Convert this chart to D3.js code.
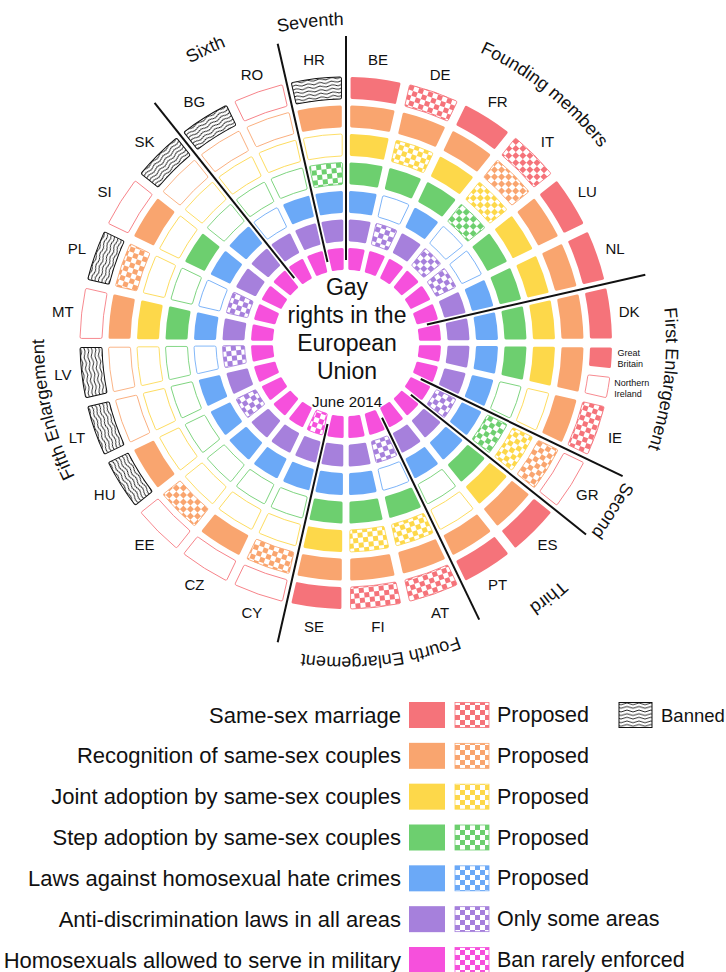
<!DOCTYPE html>
<html>
<head>
<meta charset="utf-8">
<script src="https://cdn.jsdelivr.net/npm/d3@7"></script>
<style>
  body { margin: 0; background: #fff; }
  text { font-family: "Liberation Sans", Arial, sans-serif; fill: #111; }
</style>
</head>
<body>
<div id="vis"></div>
<script>
// countries clockwise from 12 o'clock
const countries = ['BE','DE','FR','IT','LU','NL','DK','UK','IE','GR','ES','PT','AT','FI','SE',
  'CY','CZ','EE','HU','LT','LV','MT','PL','SI','SK','BG','RO','HR'];
const groupNames = ['Founding members','First Enlargement','Second','Third','Fourth Enlargement','Fifth Enlargement','Sixth','Seventh'];
const groupSizes = [6, 3, 1, 2, 3, 10, 2, 1];

// Y = yes, P = proposed / partial, N = no, B = banned, S = split (GB yes / NI no)
const marriage    = ['Y','P','Y','P','Y','Y','Y','S','P','N','Y','Y','P','P','Y','N','N','N','B','B','B','N','B','N','B','B','N','B'];
const recognition = ['Y','Y','Y','P','Y','Y','Y','Y','Y','P','Y','Y','Y','Y','Y','P','Y','P','Y','N','N','Y','P','Y','N','N','N','Y'];
const jointAdopt  = ['Y','P','Y','P','Y','Y','Y','Y','N','P','Y','N','P','P','Y','N','N','N','N','N','N','Y','N','N','N','N','N','N'];
const stepAdopt   = ['Y','Y','Y','P','Y','Y','Y','Y','N','P','Y','N','Y','Y','Y','N','N','N','N','N','N','Y','N','Y','N','N','N','P'];
const hateCrimes  = ['Y','N','Y','N','N','Y','Y','Y','Y','Y','Y','Y','N','Y','Y','Y','Y','Y','Y','Y','N','Y','N','Y','Y','N','Y','Y'];
const antiDiscrim = ['Y','P','Y','P','P','Y','Y','Y','Y','P','Y','Y','P','Y','Y','Y','Y','Y','P','Y','P','Y','P','Y','Y','Y','Y','Y'];
const military    = ['Y','Y','Y','Y','Y','Y','Y','Y','Y','Y','Y','Y','Y','Y','Y','P','Y','Y','Y','Y','Y','Y','Y','Y','Y','Y','Y','Y'];

const rightNames = ['Same-sex marriage','Recognition of same-sex couples','Joint adoption by same-sex couples',
  'Step adoption by same-sex couples','Laws against homosexual hate crimes','Anti-discrimination laws in all areas',
  'Homosexuals allowed to serve in military'];
const partialNames = ['Proposed','Proposed','Proposed','Proposed','Proposed','Only some areas','Ban rarely enforced'];
const ukParts = [['Great','Britain'], ['Northern','Ireland']];
const titleLines = ['Gay', 'rights in the', 'European', 'Union'];
const subtitle = 'June 2014';

const colors = ['#f5737a','#f9a56f','#fdd84a','#6dcf6f','#6ba9f7','#a680dc','#f650dc'];
const statusRows = [marriage, recognition, jointAdopt, stepAdopt, hateCrimes, antiDiscrim, military];

const width = 726, height = 972, cx = 346, cy = 343;

const svg = d3.select('#vis').append('svg')
  .attr('width', width)
  .attr('height', height);

const defs = svg.append('defs');
colors.forEach((c, i) => {
  let p = defs.append('pattern').attr('id', 'chk' + i)
    .attr('patternUnits', 'userSpaceOnUse').attr('width', 10).attr('height', 10);
  p.append('rect').attr('width', 10).attr('height', 10).attr('fill', '#fff');
  p.append('rect').attr('width', 5).attr('height', 5).attr('fill', c);
  p.append('rect').attr('x', 5).attr('y', 5).attr('width', 5).attr('height', 5).attr('fill', c);
});
let wave = defs.append('pattern').attr('id', 'wave')
  .attr('patternUnits', 'userSpaceOnUse').attr('width', 12).attr('height', 3.6);
wave.append('rect').attr('width', 12).attr('height', 3.6).attr('fill', '#fff');
wave.append('path').attr('d', 'M0,1.8 Q3,0 6,1.8 T12,1.8')
  .attr('fill', 'none').attr('stroke', '#111').attr('stroke-width', 0.9);

const angle = d3.scaleBand().domain(countries).range([0, 2 * Math.PI]);
const ring = d3.scaleBand().domain(rightNames).range([266, 73]).paddingInner(0.228);
const half = angle.bandwidth() / 2;
const deg = a => a * 180 / Math.PI;

function fillFor(s, r) {
  if (s === 'Y') return colors[r];
  if (s === 'P') return 'url(#chk' + r + ')';
  if (s === 'B') return 'url(#wave)';
  return '#fff';
}
function strokeFor(s, r) {
  if (s === 'Y') return 'none';
  if (s === 'B') return '#111';
  return colors[r];
}

const chart = svg.append('g').attr('transform', `translate(${cx},${cy})`);

rightNames.forEach((name, r) => {
  let ir = ring(name), or = ir + ring.bandwidth(), rm = (ir + or) / 2;
  let gap = 2.5 + 0.026 * rm;
  let arc = d3.arc().innerRadius(ir).outerRadius(or)
    .padRadius(rm).padAngle(gap / rm).cornerRadius(1.5);
  countries.forEach((c, i) => {
    let s = statusRows[r][i];
    let g = chart.append('g').attr('transform', `rotate(${deg(angle(c) + half)})`);
    let parts = s === 'S' ? [[-half, 0, 'Y'], [0, half, 'N']] : [[-half, half, s]];
    parts.forEach(p => {
      g.append('path')
        .attr('d', arc({ startAngle: p[0], endAngle: p[1] }))
        .attr('fill', fillFor(p[2], r))
        .attr('stroke', strokeFor(p[2], r))
        .attr('stroke-width', p[2] === 'B' ? 1 : 0.8);
    });
  });
});

// group dividers
let bounds = d3.cumsum(groupSizes).slice(0, -1);
[0].concat(Array.from(bounds)).forEach(b => {
  let a = angle(countries[b]);
  chart.append('line')
    .attr('x1', 83 * Math.sin(a)).attr('y1', -83 * Math.cos(a))
    .attr('x2', 307 * Math.sin(a)).attr('y2', -307 * Math.cos(a))
    .attr('stroke', '#111').attr('stroke-width', 2);
});

// group labels along circles (the left one sits a bit closer in)
function circlePath(id, lr) {
  defs.append('path').attr('id', id)
    .attr('d', `M0,${-lr} A${lr},${lr} 0 1 1 0,${lr} A${lr},${lr} 0 1 1 0,${-lr} A${lr},${lr} 0 1 1 0,${lr} A${lr},${lr} 0 1 1 0,${-lr}`);
}
const labelRadius = [320, 320, 310, 320, 314, 302, 320, 318];
let start = 0;
groupNames.forEach((gname, k) => {
  let mid = angle(countries[start]) + groupSizes[k] * angle.bandwidth() / 2;
  start += groupSizes[k];
  circlePath('labelPath' + k, labelRadius[k]);
  chart.append('text')
    .attr('font-size', 18)
    .append('textPath')
    .attr('href', '#labelPath' + k)
    .attr('startOffset', mid * labelRadius[k])
    .attr('text-anchor', 'middle')
    .text(gname);
});

// country labels
countries.forEach(c => {
  if (c === 'UK') return;
  let a = angle(c) + half;
  chart.append('text')
    .attr('x', 285 * Math.sin(a)).attr('y', -285 * Math.cos(a))
    .attr('text-anchor', 'middle').attr('dominant-baseline', 'central')
    .attr('font-size', 15)
    .text(c);
});
ukParts.forEach((lines, k) => {
  let a = angle('UK') + half * (k === 0 ? 0.5 : 1.5);
  let x = 272 * Math.sin(a), y = -272 * Math.cos(a);
  lines.forEach((t, j) => {
    chart.append('text')
      .attr('x', x).attr('y', y + (j - 0.5) * 11)
      .attr('dominant-baseline', 'central')
      .attr('font-size', 9)
      .text(t);
  });
});

// centre title
titleLines.forEach((t, j) => {
  chart.append('text')
    .attr('x', 1).attr('y', -48 + j * 28)
    .attr('text-anchor', 'middle')
    .attr('font-size', 23)
    .text(t);
});
chart.append('text')
  .attr('x', 1).attr('y', 64)
  .attr('text-anchor', 'middle')
  .attr('font-size', 15)
  .text(subtitle);

// legend
const ly = d3.scalePoint().domain(rightNames).range([715, 960]);
const legend = svg.append('g');
rightNames.forEach((name, r) => {
  let y = ly(name);
  legend.append('text')
    .attr('x', 401).attr('y', y)
    .attr('text-anchor', 'end').attr('dominant-baseline', 'central')
    .attr('font-size', 22)
    .text(name);
  legend.append('rect')
    .attr('x', 409).attr('y', y - 13).attr('width', 36).attr('height', 26)
    .attr('fill', colors[r]);
  legend.append('rect')
    .attr('x', 455).attr('y', y - 12.5).attr('width', 34).attr('height', 25)
    .attr('fill', 'url(#chk' + r + ')')
    .attr('stroke', colors[r]).attr('stroke-width', 0.8);
  legend.append('text')
    .attr('x', 497).attr('y', y)
    .attr('dominant-baseline', 'central')
    .attr('font-size', 21.5)
    .text(partialNames[r]);
});
let y0 = ly(rightNames[0]);
legend.append('rect')
  .attr('x', 619).attr('y', y0 - 12.5).attr('width', 33).attr('height', 25)
  .attr('fill', 'url(#wave)')
  .attr('stroke', '#111').attr('stroke-width', 1);
legend.append('text')
  .attr('x', 661).attr('y', y0)
  .attr('dominant-baseline', 'central')
  .attr('font-size', 18.5)
  .text('Banned');
</script>
</body>
</html>
